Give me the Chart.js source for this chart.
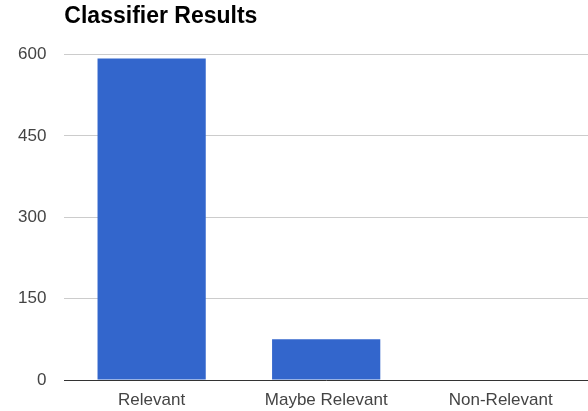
<!DOCTYPE html>
<html>
<head>
<meta charset="utf-8">
<script src="https://cdn.jsdelivr.net/npm/chart.js@4/dist/chart.umd.min.js"></script>
<style>
  html, body { margin: 0; padding: 0; background: #fff; }
  #wrap { width: 588px; height: 411px; }
</style>
</head>
<body>
<div id="wrap"><canvas id="classifierChart" width="588" height="411"></canvas></div>
<script>
const categories = ['Relevant', 'Maybe Relevant', 'Non-Relevant'];
const counts = [593, 75, 0];
const yTicks = [0, 150, 300, 450, 600];

const ctx = document.getElementById('classifierChart').getContext('2d');
const fontFamily = 'Arial, "Liberation Sans", sans-serif';

const classifierChart = new Chart(ctx, {
  type: 'bar',
  data: {
    labels: categories,
    datasets: [{
      label: 'Results',
      data: counts,
      backgroundColor: '#3366cc',
      categoryPercentage: 1,
      barPercentage: 0.62
    }]
  },
  options: {
    responsive: false,
    animation: false,
    layout: { padding: { left: 0, right: 0, top: 0, bottom: 0 } },
    plugins: {
      legend: { display: false },
      tooltip: { enabled: false },
      title: {
        display: true,
        text: 'Classifier Results',
        align: 'start',
        fullSize: false,
        color: '#000',
        font: { family: fontFamily, size: 23, weight: 'bold' },
        padding: { top: 3, bottom: 24 }
      }
    },
    scales: {
      x: {
        afterFit: axis => { axis.height = 31; },
        grid: { display: false, drawTicks: false },
        border: { display: true, color: '#333', width: 1 },
        ticks: {
          color: '#444',
          padding: 10,
          font: { family: fontFamily, size: 17 }
        }
      },
      y: {
        min: 0,
        max: 600,
        afterBuildTicks: axis => { axis.ticks = yTicks.map(v => ({ value: v })); },
        grid: { color: '#cccccc', drawTicks: false },
        border: { display: false },
        ticks: {
          color: '#444',
          padding: 18,
          font: { family: fontFamily, size: 17 }
        }
      }
    }
  }
});
</script>
</body>
</html>
